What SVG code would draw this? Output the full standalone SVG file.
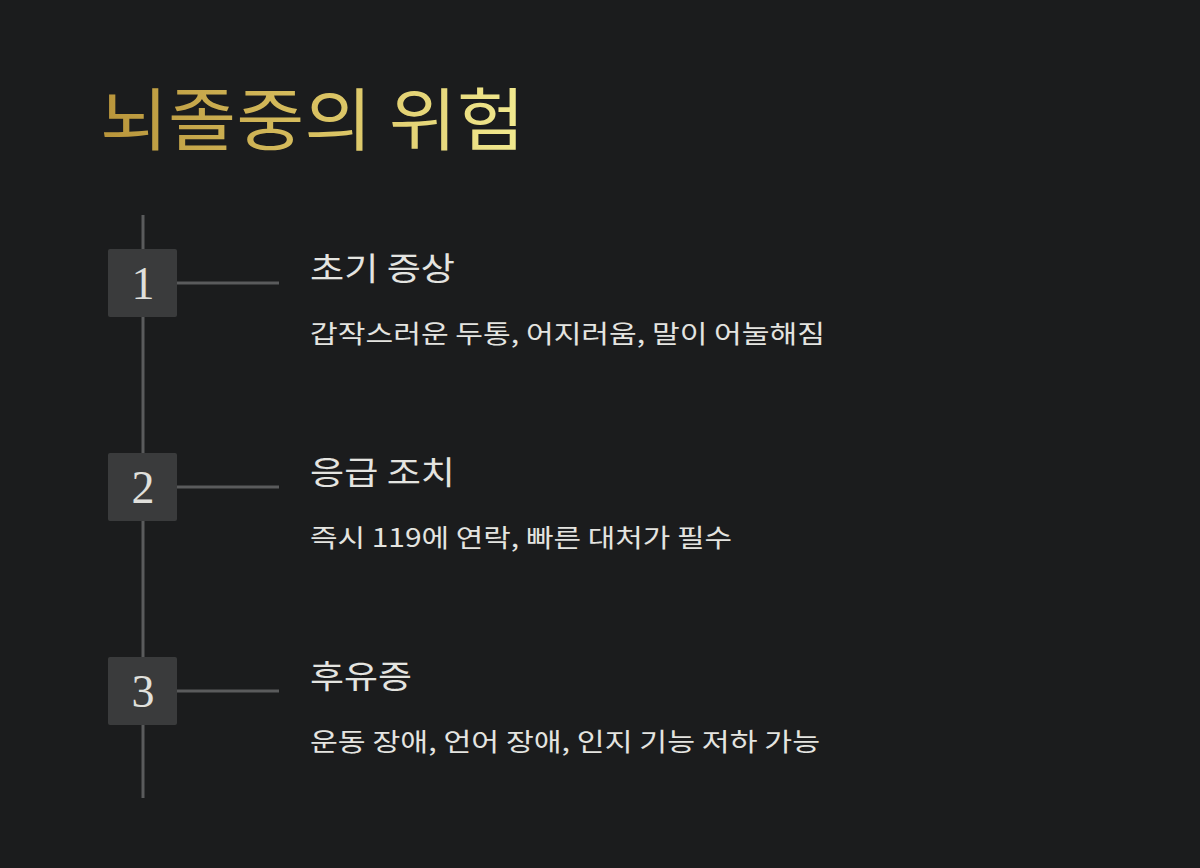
<svg xmlns="http://www.w3.org/2000/svg" width="1200" height="868" viewBox="0 0 1200 868">
<defs>
<linearGradient id="g" x1="100" y1="0" x2="525" y2="0" gradientUnits="userSpaceOnUse">
<stop offset="0" stop-color="#b8943a"/><stop offset="0.5" stop-color="#d8c060"/><stop offset="1" stop-color="#f2ea90"/>
</linearGradient>
<style>
.h{font-family:"Noto Sans CJK KR","Noto Sans",sans-serif;font-size:32px;fill:#e4e4e0}
.d{font-family:"Noto Sans CJK KR","Noto Sans",sans-serif;font-size:25px;fill:#e4e4e0}
.n{font-family:"Liberation Serif",serif;font-size:46px;fill:#e0e0dc;text-anchor:middle}
.box{fill:#3a3b3c}
.ln{stroke:#5a5b5c;stroke-width:3}
</style>
</defs>
<rect width="1200" height="868" fill="#1b1c1d"/>
<text x="100" y="145" font-family="Noto Sans CJK KR,sans-serif" font-size="68" fill="url(#g)" textLength="425" lengthAdjust="spacingAndGlyphs">뇌졸중의 위험</text>
<g id="connectors">
<line class="ln" x1="143" y1="215" x2="143" y2="798"/>
<line class="ln" x1="176" y1="283" x2="279" y2="283"/>
<line class="ln" x1="176" y1="487" x2="279" y2="487"/>
<line class="ln" x1="176" y1="691" x2="279" y2="691"/>
</g>
<g id="n1"><rect class="box" x="108" y="249" width="69" height="68" rx="2"/><text class="n" x="143" y="299">1</text>
<text class="h" x="310" y="280" textLength="145" lengthAdjust="spacingAndGlyphs">초기 증상</text><text class="d" x="310" y="343" textLength="515" lengthAdjust="spacingAndGlyphs">갑작스러운 두통, 어지러움, 말이 어눌해짐</text></g>
<g id="n2"><rect class="box" x="108" y="453" width="69" height="68" rx="2"/><text class="n" x="143" y="503">2</text>
<text class="h" x="310" y="484" textLength="145" lengthAdjust="spacingAndGlyphs">응급 조치</text><text class="d" x="310" y="547" textLength="422" lengthAdjust="spacingAndGlyphs">즉시 119에 연락, 빠른 대처가 필수</text></g>
<g id="n3"><rect class="box" x="108" y="657" width="69" height="68" rx="2"/><text class="n" x="143" y="707">3</text>
<text class="h" x="310" y="688" textLength="102" lengthAdjust="spacingAndGlyphs">후유증</text><text class="d" x="310" y="751" textLength="510" lengthAdjust="spacingAndGlyphs">운동 장애, 언어 장애, 인지 기능 저하 가능</text></g>
</svg>
